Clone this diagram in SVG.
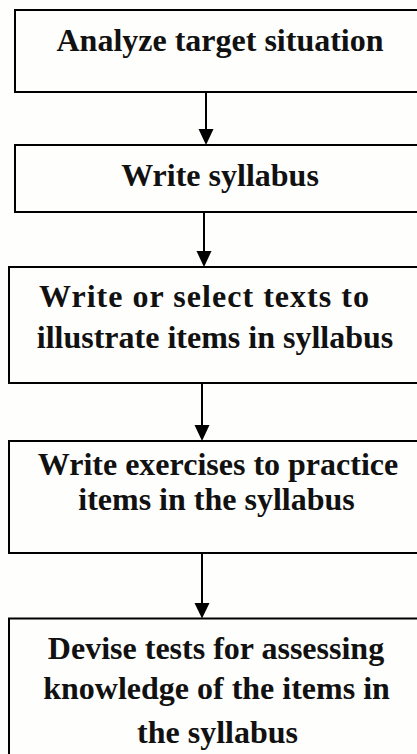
<svg xmlns="http://www.w3.org/2000/svg" width="417" height="754" viewBox="0 0 417 754">
<defs>
<style>
.box{fill:none;stroke:#000;stroke-width:2}
.t{font-family:"Liberation Serif","Times New Roman",serif;font-weight:bold;font-size:32px;fill:#111;text-anchor:middle}
.c{stroke:#000;stroke-width:2;fill:none}
.h{fill:#000;stroke:none}
</style>
</defs>
<rect x="0" y="0" width="417" height="754" fill="#fefefc"/>
<g id="node1">
<rect class="box" x="15" y="10" width="420" height="82"/>
<text class="t" x="220" y="51">Analyze target situation</text>
</g>
<g id="node2">
<rect class="box" x="15" y="145" width="420" height="67"/>
<text class="t" x="220" y="186">Write syllabus</text>
</g>
<g id="node3">
<rect class="box" x="9" y="267" width="420" height="116"/>
<text class="t" x="39" y="307" style="text-anchor:start" textLength="330" lengthAdjust="spacing">Write or select texts to</text>
<text class="t" x="215" y="348">illustrate items in syllabus</text>
</g>
<g id="node4">
<rect class="box" x="9" y="441" width="420" height="112"/>
<text class="t" x="218" y="475">Write exercises to practice</text>
<text class="t" x="216.5" y="510">items in the syllabus</text>
</g>
<g id="node5">
<rect class="box" x="9" y="618.5" width="420" height="150"/>
<text class="t" x="216" y="659">Devise tests for assessing</text>
<text class="t" x="216.5" y="699">knowledge of the items in</text>
<text class="t" x="217.5" y="743">the syllabus</text>
</g>
<g id="connectors">
<line class="c" x1="206" y1="92" x2="206" y2="130"/>
<polygon class="h" points="198.5,129 213.5,129 206,145"/>
<line class="c" x1="204" y1="212" x2="204" y2="252"/>
<polygon class="h" points="196.5,251 211.5,251 204,267"/>
<line class="c" x1="202" y1="383" x2="202" y2="426"/>
<polygon class="h" points="194.5,425 209.5,425 202,441"/>
<line class="c" x1="202" y1="553" x2="202" y2="604"/>
<polygon class="h" points="194.5,603 209.5,603 202,618.5"/>
</g>
</svg>
